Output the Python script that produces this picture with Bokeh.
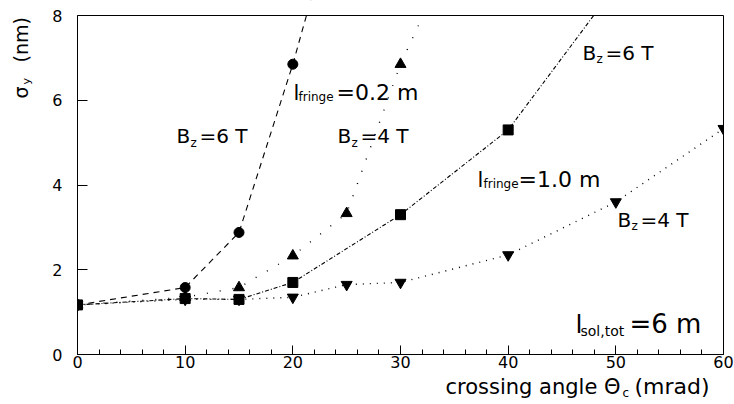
import math
from bokeh.plotting import figure
from bokeh.models import (Range1d, SingleIntervalTicker, FixedTicker, Label,
                          LinearAxis, BoxAnnotation)
from bokeh.embed import file_html
from bokeh.resources import INLINE

# ---- data ----
# B_z = 6 T, l_fringe = 0.2 m  (circles, dashed)
x_b6_f02 = [0, 10, 15, 20, 25]
y_b6_f02 = [1.17, 1.58, 2.88, 6.85, 11.4]
# B_z = 4 T, l_fringe = 0.2 m  (triangles, sparse dots)
x_b4_f02 = [0, 10, 15, 20, 25, 30, 35]
y_b4_f02 = [1.17, 1.35, 1.58, 2.33, 3.33, 6.85, 9.6]
# B_z = 6 T, l_fringe = 1.0 m  (squares, dash-dot)
x_b6_f10 = [0, 10, 15, 20, 30, 40, 50]
y_b6_f10 = [1.17, 1.32, 1.30, 1.70, 3.30, 5.30, 8.7]
# B_z = 4 T, l_fringe = 1.0 m  (inverted triangles, dotted)
x_b4_f10 = [0, 10, 15, 20, 25, 30, 40, 50, 60]
y_b4_f10 = [1.17, 1.30, 1.30, 1.35, 1.65, 1.70, 2.35, 3.60, 5.33]

X_MIN, X_MAX = 0, 60
Y_MIN, Y_MAX = 0, 8

FONT = "DejaVu Sans"
W, H = 734, 404
# plot box in canvas pixels
BL, BR, BT, BB = 77, 723, 15, 354
sx = (BR - BL) / (X_MAX - X_MIN)
sy = (BB - BT) / (Y_MAX - Y_MIN)

p = figure(width=W, height=H,
           x_range=Range1d(X_MIN - BL / sx, X_MAX + (W - BR) / sx),
           y_range=Range1d(Y_MIN - (H - BB) / sy, Y_MAX + BT / sy),
           output_backend="svg", toolbar_location=None, min_border=0)
p.title.visible = False
p.xaxis.visible = False
p.yaxis.visible = False
p.xgrid.visible = False
p.ygrid.visible = False
p.outline_line_color = None
p.background_fill_color = "white"
p.border_fill_color = "white"

lw = 1.1
p.line(x_b6_f02, y_b6_f02, line_color="black", line_width=lw, line_dash="6 5")
p.line(x_b4_f02, y_b4_f02, line_color="black", line_width=lw + 0.3, line_dash="1 12")
p.line(x_b6_f10, y_b6_f10, line_color="black", line_width=lw, line_dash="4 2 1 2")
p.line(x_b4_f10, y_b4_f10, line_color="black", line_width=lw + 0.3, line_dash="1 6")

p.scatter(x_b6_f02, y_b6_f02, marker="circle", size=10, color="black")
p.scatter(x_b4_f02, y_b4_f02, marker="triangle", size=11, color="black")
p.scatter(x_b4_f10, y_b4_f10, marker="inverted_triangle", size=11, color="black")
p.scatter(x_b6_f10, y_b6_f10, marker="square", size=10, color="black")

# white masks outside the plot box (so the curves are cut at the box edge)
for kw in (dict(bottom=Y_MAX), dict(right=X_MIN), dict(left=X_MAX)):
    p.renderers.append(BoxAnnotation(fill_color="white", fill_alpha=1.0, line_alpha=0,
                                     level="glyph", **kw))

# axes drawn at the plot-box edges
xa = LinearAxis(fixed_location=Y_MIN, bounds=(X_MIN, X_MAX),
                ticker=SingleIntervalTicker(interval=10, num_minor_ticks=5))
xa.major_tick_in = 9
xa.major_tick_out = 0
xa.minor_tick_in = 5
xa.minor_tick_out = 0
xa.major_label_standoff = 1
ya = LinearAxis(fixed_location=X_MIN, bounds=(Y_MIN, Y_MAX),
                ticker=SingleIntervalTicker(interval=2, num_minor_ticks=0))
ya.major_tick_in = 10
ya.major_tick_out = 0
ya.minor_tick_in = 0
ya.minor_tick_out = 0
ya.major_label_standoff = 15
for ax in (xa, ya):
    ax.axis_line_color = "black"
    ax.major_tick_line_color = "black"
    ax.minor_tick_line_color = "black"
    ax.major_label_text_font = FONT
    ax.major_label_text_font_size = "16px"
    ax.major_label_text_color = "black"
p.add_layout(xa, "below")
p.add_layout(ya, "left")

xt = LinearAxis(fixed_location=Y_MAX, bounds=(X_MIN, X_MAX), ticker=FixedTicker(ticks=[]))
yr = LinearAxis(fixed_location=X_MAX, bounds=(Y_MIN, Y_MAX), ticker=FixedTicker(ticks=[]))
for ax in (xt, yr):
    ax.axis_line_color = "black"
    ax.major_tick_in = 0
    ax.major_tick_out = 0
    ax.minor_tick_in = 0
    ax.minor_tick_out = 0
    ax.major_label_text_alpha = 0
p.add_layout(xt, "above")
p.add_layout(yr, "right")

SHIFT = 0.38  # empirical baseline correction (fraction of font size)


def lab(txt, size, px, py, rotated=False):
    # px, py: canvas-pixel anchor (left end, baseline) converted to data units
    if rotated:
        px -= SHIFT * size
    else:
        py -= SHIFT * size
    p.add_layout(Label(x=X_MIN + (px - BL) / sx, y=Y_MIN + (BB - py) / sy, text=txt,
                       text_font=FONT, text_font_size=f"{size}px", text_color="black",
                       text_align="left", text_baseline="alphabetic",
                       angle=math.pi / 2 if rotated else 0.0))


# B_z = 6 T (left)
lab("B", 20, 176, 143); lab("z", 12, 190, 147); lab("=6 T", 20, 199, 143)
# l_fringe = 0.2 m
lab("l", 21, 293, 100); lab("fringe", 12, 298, 101); lab("=0.2 m", 22, 336, 100)
# B_z = 4 T (middle)
lab("B", 20, 337, 143); lab("z", 12, 351, 147); lab("=4 T", 20, 360, 143)
# B_z = 6 T (top right)
lab("B", 20, 582, 60); lab("z", 12, 596, 63); lab("=6 T", 20, 605, 60)
# l_fringe = 1.0 m
lab("l", 21, 477, 187); lab("fringe", 12, 483, 188); lab("=1.0 m", 22, 518, 187)
# B_z = 4 T (bottom right)
lab("B", 20, 617, 227); lab("z", 12, 631, 230); lab("=4 T", 20, 640, 227)
# l_sol,tot = 6 m
lab("l", 25, 575, 333); lab("sol,tot", 14, 580, 336); lab("=6 m", 26, 629, 333)

# axis titles
lab("crossing angle \u0398", 21, 445, 394); lab("c", 12, 622, 397); lab("(mrad)", 22, 634, 394)
lab("\u03c3", 19, 28, 98, True); lab("y", 11, 30, 84, True); lab("(nm)", 19, 28, 62, True)

open("out.html", "w").write(file_html(p, INLINE))
